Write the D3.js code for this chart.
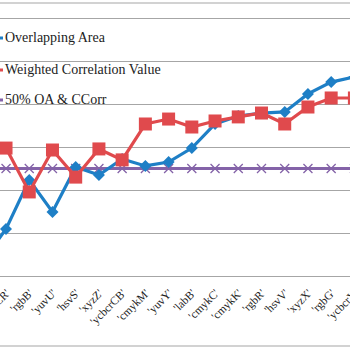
<!DOCTYPE html>
<html>
<head>
<meta charset="utf-8">
<script src="https://cdn.jsdelivr.net/npm/d3@7"></script>
<style>
	body { margin: 0; background: #fff; }
	svg { display: block; font-family: "Liberation Serif", "DejaVu Serif", serif; }
</style>
</head>
<body>
<svg id="chart"></svg>
<script>
// first category sits just off the left edge of the picture
let categories = ["'ycbcrS'", "'ycbcrCR'", "'rgbB'", "'yuvU'", "'hsvS'", "'xyzZ'", "'ycbcrCB'", "'cmykM'", "'yuvY'",
	"'labB'", "'cmykC'", "'cmykK'", "'rgbR'", "'hsvV'", "'xyzX'", "'rgbG'", "'ycbcrY'"];
let overlapArea = [0.07, 0.219, 0.447, 0.298, 0.507, 0.470, 0.544, 0.512, 0.530,
	0.595, 0.707, 0.744, 0.758, 0.763, 0.847, 0.902, 0.926];
let weightedCorr = [null, 0.595, 0.391, 0.586, 0.460, 0.591, 0.540, 0.707, 0.730,
	0.693, 0.721, 0.740, 0.758, 0.707, 0.786, 0.828, 0.828];
let halfLine = categories.map(() => 0.5);
let yTicks = [0, 0.2, 0.4, 0.6, 0.8, 1.0, 1.2];
let legendNames = ['Overlapping Area', 'Weighted Correlation Value', '50% OA & CCorr'];

function makeChart() {
	let w = 350;
	let h = 350;
	let blue = '#1e7fc6';
	let red = '#e04a4d';
	let purple = '#8463a8';

	let chart = d3.select('#chart')
		.attr('width', w)
		.attr('height', h);

	var x = d3.scalePoint()
		.domain(categories)
		.range([-17.2, 354.4]);

	var y = d3.scaleLinear()
		.domain([0, 1.2])
		.range([276, 18]);

	// border lines
	chart.append('line')
		.attr('x1', 0).attr('x2', w)
		.attr('y1', 3).attr('y2', 3)
		.style('stroke', '#a6a6a6').style('stroke-width', 1.2);
	chart.append('line')
		.attr('x1', 0).attr('x2', w)
		.attr('y1', 346).attr('y2', 346)
		.style('stroke', '#a6a6a6').style('stroke-width', 1.2);

	// gridlines
	let grid = chart.append('g')
		.call(d3.axisLeft(y).tickValues(yTicks).tickSize(-w).tickFormat(''));
	grid.select('.domain').remove();
	grid.selectAll('line')
		.style('stroke', '#a6a6a6')
		.style('stroke-width', 1.2);

	// x axis labels
	let xAxis = chart.append('g')
		.attr('transform', 'translate(0, 276)')
		.call(d3.axisBottom(x).tickSize(0).tickFormat(d => d));
	xAxis.select('.domain').remove();
	xAxis.selectAll('text')
		.style('font-family', '"Liberation Serif", serif')
		.style('font-size', '11.5px')
		.style('fill', '#222')
		.attr('text-anchor', 'end')
		.attr('y', 0)
		.attr('dy', 0)
		.attr('transform', 'translate(4, 18) rotate(-45)');

	// legend
	let legendColors = [blue, red, purple];
	let legendY = [42, 74, 104];
	legendNames.forEach((name, i) => {
		chart.append('rect')
			.attr('x', 0).attr('y', legendY[i] - 5.5)
			.attr('width', 3).attr('height', 3)
			.style('fill', legendColors[i]);
		chart.append('text')
			.attr('x', 5).attr('y', legendY[i])
			.style('font-size', '14px')
			.style('fill', '#222')
			.text(name);
	});

	let line = d3.line()
		.defined(d => d[1] !== null)
		.x(d => x(d[0]))
		.y(d => y(d[1]));

	// 50% line with x markers
	let purpleData = categories.map((c, i) => [c, halfLine[i]]);
	chart.append('line')
		.attr('x1', 0).attr('x2', w)
		.attr('y1', y(0.5)).attr('y2', y(0.5))
		.style('stroke', purple).style('stroke-width', 3);
	chart.selectAll('.xmark')
		.data(purpleData)
		.enter()
		.append('path')
		.attr('class', 'xmark')
		.attr('d', 'M-4.5,-4.5L4.5,4.5M-4.5,4.5L4.5,-4.5')
		.attr('transform', d => `translate(${x(d[0])}, ${y(d[1])})`)
		.style('stroke', purple).style('stroke-width', 1.3);

	// overlapping area
	let blueData = categories.map((c, i) => [c, overlapArea[i]]);
	chart.append('path')
		.datum(blueData)
		.attr('d', line)
		.style('fill', 'none').style('stroke', blue).style('stroke-width', 3.2);
	chart.selectAll('.diamond')
		.data(blueData)
		.enter()
		.append('path')
		.attr('class', 'diamond')
		.attr('d', 'M0,-6L6,0L0,6L-6,0Z')
		.attr('transform', d => `translate(${x(d[0])}, ${y(d[1])})`)
		.style('fill', blue);

	// weighted correlation
	let redData = categories.map((c, i) => [c, weightedCorr[i]]);
	chart.append('path')
		.datum(redData)
		.attr('d', line)
		.style('fill', 'none').style('stroke', red).style('stroke-width', 3.2);
	chart.selectAll('.square')
		.data(redData.filter(d => d[1] !== null))
		.enter()
		.append('rect')
		.attr('class', 'square')
		.attr('x', d => x(d[0]) - 6.5)
		.attr('y', d => y(d[1]) - 6.5)
		.attr('width', 13)
		.attr('height', 13)
		.style('fill', red);
}

window.onload = function () {
	makeChart();
}
</script>
</body>
</html>
